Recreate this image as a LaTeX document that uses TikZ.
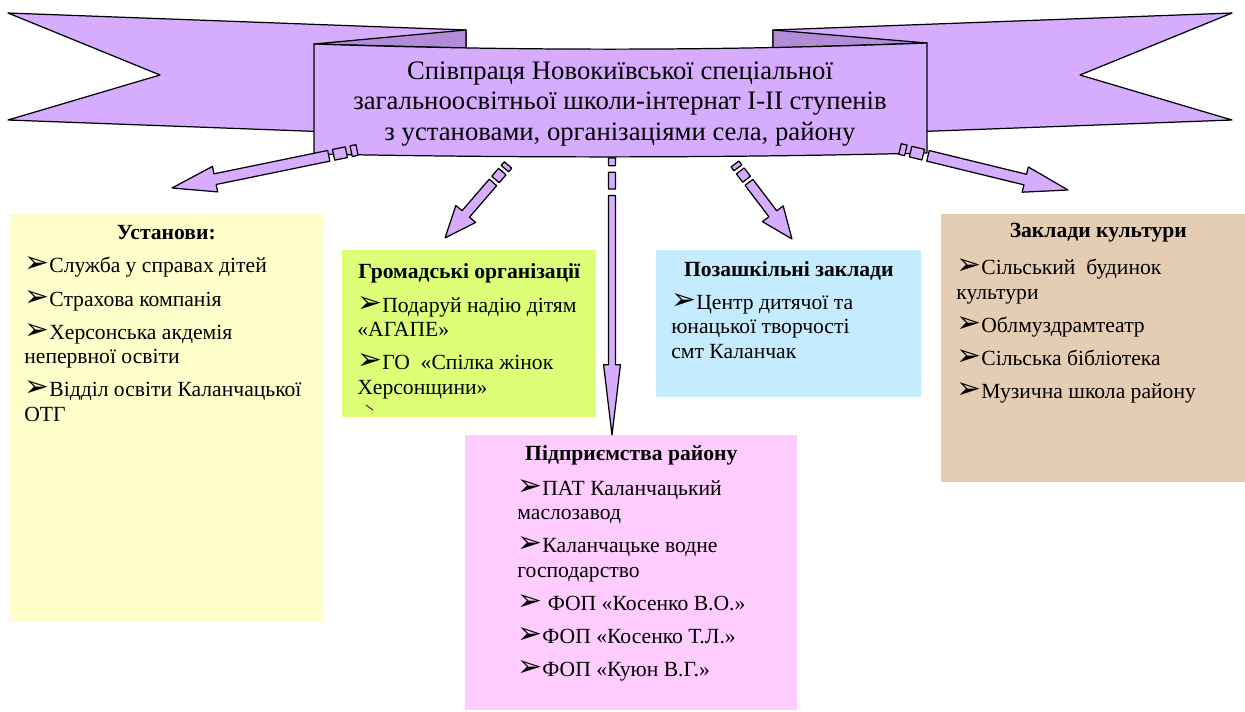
\documentclass[tikz,border=0pt]{standalone}
\usepackage{fontspec}
\setmainfont{Liberation Serif}
\newfontfamily\dingfont{DejaVu Sans}
\usepackage{tikz}
\usetikzlibrary{calc}
\definecolor{ribbonfill}{RGB}{214,172,255}
\definecolor{ribbonfold}{RGB}{178,140,214}
\definecolor{instfill}{RGB}{255,255,204}
\definecolor{ngofill}{RGB}{221,255,119}
\definecolor{clubfill}{RGB}{197,235,255}
\definecolor{cultfill}{RGB}{229,205,180}
\definecolor{bizfill}{RGB}{255,204,255}
\tikzset{ribbon/.style={draw, fill=ribbonfill, line width=0.7pt, line join=round},
  box/.style={inner sep=0pt, anchor=north west},
  boxtitle/.style={font=\rmfamily\fontsize{12.3}{13.9}\selectfont\bfseries},
  boxlist/.style={inner sep=0pt, anchor=north west, align=left, font=\rmfamily\fontsize{12.3}{13.9}\selectfont}}
\newcommand{\bul}{\smash{\mbox{\dingfont\fontsize{17}{14}\selectfont ➢}}}
% tail, tip, shaft half width, head half width, head length, stripe scale
\newcommand{\stripedarrow}[6]{%
  \path[ribbon] let \p1=(#1), \p2=(#2), \n1={atan2(\y2-\y1,\x2-\x1)},
      \n2={veclen(\x2-\x1,\y2-\y1)} in [shift={(\p1)}, rotate=\n1]
    (0pt,-#3) rectangle ({3.4pt*#6},#3)
    ({6.2pt*#6},-#3) rectangle ({13.6pt*#6},#3)
    ({16.4pt*#6},-#3) -- ({\n2*1pt-#5},-#3) -- ({\n2*1pt-#5},-#4) -- ({\n2*1pt},0pt)
    -- ({\n2*1pt-#5},#4) -- ({\n2*1pt-#5},#3) -- ({16.4pt*#6},#3) -- cycle;}

\begin{document}
\begin{tikzpicture}[x=0.02cm, y=-0.02cm]   % 1 unit = 1 px of the page
    \useasboundingbox (0,0) rectangle (1245,711);

    % ribbon
    \draw[ribbon] (8,13) -- (466,30) -- (466,137) -- (8,120) -- (160,75) -- cycle;
    \draw[ribbon] (1232,13) -- (773,30) -- (773,137) -- (1232,120) -- (1080,75) -- cycle;
    \draw[ribbon, fill=ribbonfold] (314,44) -- (466,30) -- (466,48) -- cycle;
    \draw[ribbon, fill=ribbonfold] (927,43) -- (773,30) -- (773,48) -- cycle;
    \draw[ribbon] (314,44) .. controls (520,51) and (720,51) .. (927,43) -- (927,153)
        .. controls (720,158) and (520,158) .. (314,154) -- cycle;
    \node[align=center, font=\rmfamily\fontsize{15.2}{17.4}\selectfont] (banner) at (620,104)
        {Співпраця Новокиївської спеціальної\\ загальноосвітньої школи-інтернат І-ІІ ступенів\\ з установами, організаціями села, району};

    \node[box, fill=instfill, minimum width=6.28cm, minimum height=8.16cm] at (9,214) (inst) {};
    \node[box, fill=ngofill, minimum width=5.08cm, minimum height=3.34cm] at (342,250) (ngo) {};
    \node[box, fill=clubfill, minimum width=5.3cm, minimum height=2.94cm] at (656,250) (club) {};
    \node[box, fill=cultfill, minimum width=6.08cm, minimum height=5.36cm] at (941,214) (cult) {};
    \node[box, fill=bizfill, minimum width=6.64cm, minimum height=5.5cm] at (465,435) (biz) {};

    \node[boxtitle] at ($(inst.north)+(0,19)$) (instT) {Установи:};
    \node[boxtitle] at ($(ngo.north)+(0,23)$) (ngoT) {Громадські організації};
    \node[boxtitle] at ($(club.north)+(0,21)$) (clubT) {Позашкільні заклади};
    \node[boxtitle] at ($(cult.north)+(5,19)$) (cultT) {Заклади культури};
    \node[boxtitle] at ($(biz.north)+(0,20)$) (bizT) {Підприємства району};

    \node[boxlist] at ($(inst.north west)+(15,43)$) (instL) {\bul Служба у справах дітей\\[5pt]
        \bul Страхова компанія\\[5pt] \bul Херсонська акдемія\\ непервної освіти\\[5pt]
        \bul Відділ освіти Каланчацької\\ ОТГ};
    \node[boxlist] at ($(ngo.north west)+(15,47)$) (ngoL) {\bul Подаруй надію дітям\\ «АГАПЕ»\\[5pt]
        \bul ГО\ \ «Спілка жінок\\ Херсонщини»};
    \node[boxlist] at ($(club.north west)+(15,45)$) (clubL) {\bul Центр дитячої та\\ юнацької творчості\\ смт Каланчак};
    \node[boxlist] at ($(cult.north west)+(15,45)$) (cultL) {\bul Сільський\ \ будинок\\ культури\\[5pt]
        \bul Облмуздрамтеатр\\[5pt] \bul Сільська бібліотека\\[5pt] \bul Музична школа району};
    \node[boxlist] at ($(biz.north west)+(52,45)$) (bizL) {\bul ПАТ Каланчацький\\ маслозавод\\[5pt]
        \bul Каланчацьке водне\\ господарство\\[5pt] \bul{} ФОП «Косенко В.О.»\\[5pt]
        \bul ФОП «Косенко Т.Л.»\\[5pt] \bul ФОП «Куюн В.Г.»};
    \draw[thin] (366,405) -- (373,410);

    % arrows from the ribbon
    \coordinate (t1) at (357,150);  \coordinate (h1) at (172,188);
    \coordinate (t2) at (508,165);  \coordinate (h2) at (445,238);
    \coordinate (t3) at (612,158);  \coordinate (h3) at (612,435);
    \coordinate (t4) at (735,164);  \coordinate (h4) at (792,239);
    \coordinate (t5) at (900,149);  \coordinate (h5) at (1068,190);
    \stripedarrow{t1}{h1}{3.1pt}{7.4pt}{25pt}{1}
    \stripedarrow{t2}{h2}{2.8pt}{7.4pt}{18pt}{0.8}
    \stripedarrow{t3}{h3}{2pt}{4.8pt}{40pt}{1.3}
    \stripedarrow{t4}{h4}{2.8pt}{7.4pt}{18pt}{0.8}
    \stripedarrow{t5}{h5}{3.1pt}{7.4pt}{25pt}{1}
\end{tikzpicture}
\end{document}
